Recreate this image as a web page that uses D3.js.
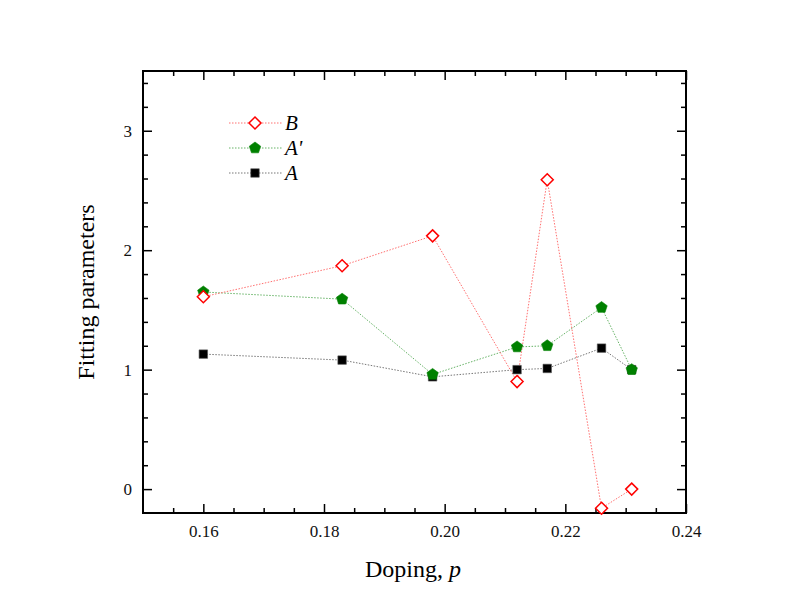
<!DOCTYPE html>
<html>
<head>
<meta charset="utf-8">
<script src="https://cdn.jsdelivr.net/npm/d3@7"></script>
<style>
  body { margin: 0; background: #fff; }
  svg, svg text { font-family: "Liberation Serif", "DejaVu Serif", serif; }
</style>
</head>
<body>
<svg width="797" height="616"></svg>
<script>
// data
const doping = [0.16, 0.183, 0.198, 0.212, 0.217, 0.226, 0.231];
const valuesB = [1.61, 1.87, 2.12, 0.90, 2.59, -0.16, 0.0];
const valuesA2 = [1.65, 1.59, 0.96, 1.19, 1.20, 1.52, 1.0];
const valuesA = [1.13, 1.08, 0.94, 1.0, 1.01, 1.18, 1.0];
const xTicks = [0.16, 0.18, 0.20, 0.22, 0.24];
const yTicks = [0, 1, 2, 3];

const w = 797, h = 616;
const margin = { top: 71, bottom: 103, left: 143, right: 111 };
const chartW = w - margin.left - margin.right;
const chartH = h - margin.top - margin.bottom;
const serif = '"Liberation Serif", "DejaVu Serif", serif';

const svg = d3.select("svg");
const chart = svg.append("g")
  .attr("transform", `translate(${margin.left}, ${margin.top})`);

const xScale = d3.scaleLinear().domain([0.15, 0.24]).range([0, chartW]);
const yScale = d3.scaleLinear().domain([-0.2, 3.5]).range([chartH, 0]);

// minor ticks every 0.005 on x and 0.2 on y
const xMinor = d3.range(0.155, 0.24, 0.005).filter(v => !xTicks.some(t => Math.abs(t - v) < 1e-6));
const yMinor = d3.range(-0.2, 3.5, 0.2).filter(v => !yTicks.some(t => Math.abs(t - v) < 1e-6) && v > -0.19);

function styleAxis(g) {
  g.attr("font-family", serif).attr("font-size", 17);
  g.select(".domain").remove();
  g.selectAll(".tick line").attr("stroke", "#000").attr("stroke-width", 1.5);
  g.selectAll(".tick text")
    .attr("fill", "#111")
    .style("font-family", serif)
    .style("font-size", "17px");
}

// bottom
chart.append("g").attr("transform", `translate(0, ${chartH})`)
  .call(d3.axisBottom(xScale).tickValues(xTicks).tickFormat(d3.format(".2f")).tickSizeInner(-9).tickPadding(12))
  .call(styleAxis);
chart.append("g").attr("transform", `translate(0, ${chartH})`)
  .call(d3.axisBottom(xScale).tickValues(xMinor).tickFormat("").tickSizeInner(-5))
  .call(styleAxis);
// top
chart.append("g")
  .call(d3.axisTop(xScale).tickValues(xTicks).tickFormat("").tickSizeInner(-9))
  .call(styleAxis);
chart.append("g")
  .call(d3.axisTop(xScale).tickValues(xMinor).tickFormat("").tickSizeInner(-5))
  .call(styleAxis);
// left
chart.append("g")
  .call(d3.axisLeft(yScale).tickValues(yTicks).tickFormat(d3.format("d")).tickSizeInner(-9).tickPadding(11))
  .call(styleAxis);
chart.append("g")
  .call(d3.axisLeft(yScale).tickValues(yMinor).tickFormat("").tickSizeInner(-5))
  .call(styleAxis);
// right
chart.append("g").attr("transform", `translate(${chartW}, 0)`)
  .call(d3.axisRight(yScale).tickValues(yTicks).tickFormat("").tickSizeInner(-9))
  .call(styleAxis);
chart.append("g").attr("transform", `translate(${chartW}, 0)`)
  .call(d3.axisRight(yScale).tickValues(yMinor).tickFormat("").tickSizeInner(-5))
  .call(styleAxis);

// frame
chart.append("rect")
  .attr("width", chartW).attr("height", chartH)
  .attr("fill", "none").attr("stroke", "#000").attr("stroke-width", 2);

// custom symbols: square-shaped diamond and pentagon
const diamond = {
  draw(ctx, size) {
    const r = Math.sqrt(size / 2);
    ctx.moveTo(0, -r); ctx.lineTo(r, 0); ctx.lineTo(0, r); ctx.lineTo(-r, 0);
    ctx.closePath();
  }
};
const pentagon = {
  draw(ctx, size) {
    const r = Math.sqrt(size / 2.38);
    for (let i = 0; i < 5; i++) {
      const a = -Math.PI / 2 + i * 2 * Math.PI / 5;
      const px = r * Math.cos(a), py = r * Math.sin(a);
      if (i === 0) ctx.moveTo(px, py); else ctx.lineTo(px, py);
    }
    ctx.closePath();
  }
};

const series = [
  { name: "B", values: valuesB, color: "#ff0000", line: "#ff7070", symbol: diamond, size: 72, filled: false },
  { name: "A'", values: valuesA2, color: "#008000", line: "#66b366", symbol: pentagon, size: 85, filled: true },
  { name: "A", values: valuesA, color: "#000000", line: "#777777", symbol: d3.symbolSquare, size: 72, filled: true }
];

const line = d3.line().x((d, i) => xScale(doping[i])).y(d => yScale(d));

series.slice().reverse().forEach(s => {
  chart.append("path")
    .attr("d", line(s.values))
    .attr("fill", "none")
    .attr("stroke", s.line)
    .attr("stroke-width", 1)
    .attr("stroke-dasharray", "1.5,1.5");
});

function drawMarker(sel, s) {
  sel.attr("d", d3.symbol().type(s.symbol).size(s.size))
    .attr("fill", s.filled ? s.color : "#fff")
    .attr("stroke", s.name === "A" ? "#555" : s.color)
    .attr("stroke-width", s.filled ? 0.6 : 1.5);
}

series.slice().reverse().forEach(s => {
  chart.selectAll(null)
    .data(s.values)
    .enter()
    .append("path")
    .attr("transform", (d, i) => `translate(${xScale(doping[i])}, ${yScale(d)})`)
    .call(drawMarker, s);
});

// legend
const legend = svg.append("g").attr("transform", "translate(229, 123)");
series.forEach((s, i) => {
  const row = legend.append("g").attr("transform", `translate(0, ${i * 25})`);
  row.append("line")
    .attr("x1", 0).attr("x2", 53).attr("y1", 0).attr("y2", 0)
    .attr("stroke", s.line).attr("stroke-width", 1).attr("stroke-dasharray", "1.5,1.5");
  row.append("path")
    .attr("transform", "translate(26, 0)")
    .call(drawMarker, s);
  row.append("text")
    .attr("x", 56).attr("y", 7)
    .style("font-family", serif)
    .style("font-size", "21px")
    .style("font-style", "italic")
    .text(s.name);
});

// axis titles
svg.append("text")
  .attr("x", margin.left + xScale(0.19475))
  .attr("y", 577)
  .attr("text-anchor", "middle")
  .style("font-family", serif)
  .style("font-size", "24px")
  .html('Doping, <tspan font-style="italic">p</tspan>');

svg.append("text")
  .attr("transform", `translate(94, ${margin.top + yScale(1.65)}) rotate(-90)`)
  .attr("text-anchor", "middle")
  .style("font-family", serif)
  .style("font-size", "24px")
  .text("Fitting parameters");
</script>
</body>
</html>
